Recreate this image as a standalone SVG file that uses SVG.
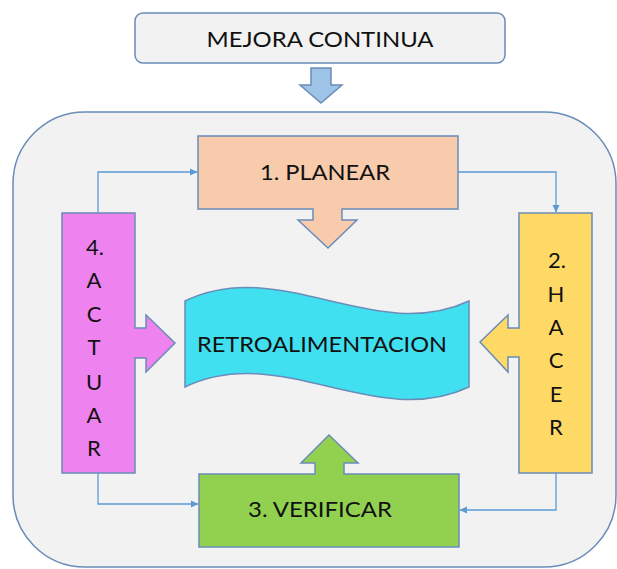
<svg xmlns="http://www.w3.org/2000/svg" width="617" height="569" viewBox="0 0 617 569">
<style>
.bx{stroke:#6a8cb8;stroke-width:1.5}
.t{font-family:Lato,"Liberation Sans",sans-serif;font-size:22px;fill:#111}
.c{fill:none;stroke:#5b9bd5;stroke-width:1.3}
</style>
<defs>
<marker id="ah" markerWidth="8" markerHeight="8" refX="7" refY="4" orient="auto" markerUnits="userSpaceOnUse">
<path d="M0,0.5 L7.5,4 L0,7.5 Z" fill="#5b9bd5"/>
</marker>
</defs>
<rect x="0" y="0" width="617" height="569" fill="#ffffff"/>
<g id="frame"><rect x="13" y="112" width="603" height="455" rx="72" ry="72" fill="#f2f2f2" stroke="#6a8cb8" stroke-width="1.5"/></g>
<g id="mejora">
<rect class="bx" x="135" y="13" width="370" height="50" rx="8" fill="#f2f2f2"/>
<text class="t" x="320" y="47" text-anchor="middle" textLength="227" lengthAdjust="spacingAndGlyphs">MEJORA CONTINUA</text>
</g>
<g id="downarrow"><path class="bx" d="M311,68 H331 V85 H342 L321,103 L300,85 H311 Z" fill="#9dc3e6"/></g>
<g id="planear">
<path class="bx" d="M198,136 H458 V209 H342 V220 H357 L328,248 L298,220 H313 V209 H198 Z" fill="#f8cbad"/>
<text class="t" x="325" y="180" text-anchor="middle" textLength="130" lengthAdjust="spacingAndGlyphs">1. PLANEAR</text>
</g>
<g id="hacer">
<path class="bx" d="M519,213 H592 V473 H519 V357 H508 V372 L480,342 L508,315 V328 H519 Z" fill="#ffd966"/>
<text class="t" x="548" y="268">2.</text>
<text class="t" x="556" y="302" text-anchor="middle">H</text>
<text class="t" x="556" y="335" text-anchor="middle">A</text>
<text class="t" x="556" y="368" text-anchor="middle">C</text>
<text class="t" x="556" y="402" text-anchor="middle">E</text>
<text class="t" x="556" y="435" text-anchor="middle">R</text>
</g>
<g id="verificar">
<path class="bx" d="M199,474 H315 V463 H301 L329,435 L358,463 H344 V474 H459 V547 H199 Z" fill="#92d050"/>
<text class="t" x="320" y="517" text-anchor="middle" textLength="144" lengthAdjust="spacingAndGlyphs">3. VERIFICAR</text>
</g>
<g id="actuar">
<path class="bx" d="M62,213 H135 V328 H146 V315 L175,343 L146,372 V358 H135 V473 H62 Z" fill="#ee82ee"/>
<text class="t" x="86" y="255">4.</text>
<text class="t" x="94" y="288" text-anchor="middle">A</text>
<text class="t" x="94" y="322" text-anchor="middle">C</text>
<text class="t" x="94" y="355" text-anchor="middle">T</text>
<text class="t" x="94" y="390" text-anchor="middle">U</text>
<text class="t" x="94" y="423" text-anchor="middle">A</text>
<text class="t" x="94" y="456" text-anchor="middle">R</text>
</g>
<g id="retro">
<path class="bx" d="M185,301 C280,255 375,345 469,301 L469,387 C375,431 280,341 185,387 Z" fill="#40e0f0"/>
<text class="t" x="322" y="352" text-anchor="middle" textLength="250" lengthAdjust="spacingAndGlyphs">RETROALIMENTACION</text>
</g>
<g id="connectors">
<path class="c" d="M98,213 V172 H197" marker-end="url(#ah)"/>
<path class="c" d="M458,172 H556 V212" marker-end="url(#ah)"/>
<path class="c" d="M98,473 V504 H198" marker-end="url(#ah)"/>
<path class="c" d="M556,473 V510 H460" marker-end="url(#ah)"/>
</g>
</svg>
